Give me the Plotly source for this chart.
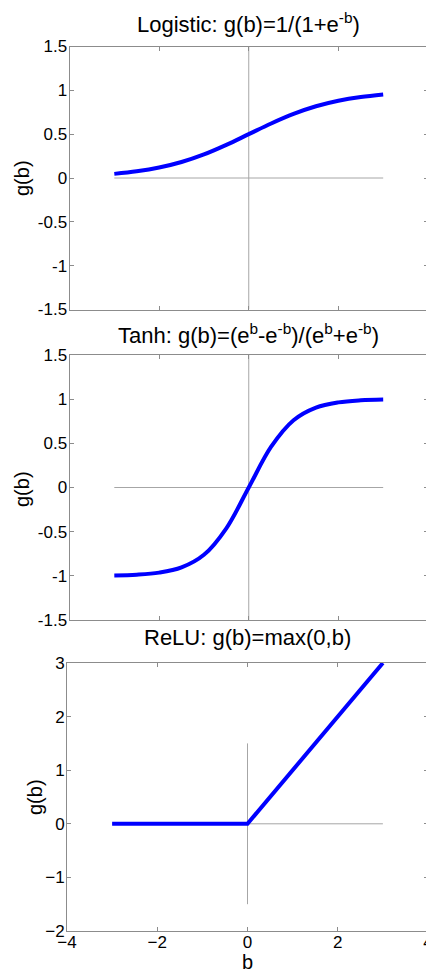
import plotly.graph_objects as go

# ---- data ----
b_vals = [-3.0, -2.5, -2.0, -1.5, -1.0, -0.5, 0.0, 0.5, 1.0, 1.5, 2.0, 2.5, 3.0]
logistic_vals = [0.047, 0.076, 0.119, 0.182, 0.269, 0.378, 0.5, 0.622, 0.731, 0.818, 0.881, 0.924, 0.953]
tanh_vals = [-0.995, -0.987, -0.964, -0.905, -0.762, -0.462, 0.0, 0.462, 0.762, 0.905, 0.964, 0.987, 0.995]
relu_b = [-3.0, 0.0, 3.0]
relu_vals = [0.0, 0.0, 3.0]

# reference (axis) lines drawn inside the panels
hline_x = [-3, 3]
hline_y = [0, 0]
vline_x_top = [0, 0]
vline_y_top = [-1.5, 1.5]
vline_x_relu = [0, 0]
vline_y_relu = [-1.5, 1.5]

titles = [
    "Logistic: g(b)=1/(1+e<sup>-b</sup>)",
    "Tanh: g(b)=(e<sup>b</sup>-e<sup>-b</sup>)/(e<sup>b</sup>+e<sup>-b</sup>)",
    "ReLU: g(b)=max(0,b)",
]
y_title = "g(b)"
x_title = "b"
x_ticks = [-4, -2, 0, 2, 4]
y_ticks_top = [-1.5, -1, -0.5, 0, 0.5, 1, 1.5]
y_ticks_top_text = ["-1.5", "-1", "-0.5", "0", "0.5", "1", "1.5"]
y_ticks_relu = [-2, -1, 0, 1, 2, 3]

# The page body has an 8px margin, so the figure is drawn at (8, 8) in the window.
OFF = 8
W, H = 434 - OFF, 972 - OFF
FONT = "Liberation Sans, Arial, sans-serif"
BLUE = "#0000ff"
REF = "#a6a6a6"
AX = "#8c8c8c"

fig = go.Figure()

panels = [
    ("x", "y", b_vals, logistic_vals, vline_x_top, vline_y_top, "spline"),
    ("x2", "y2", b_vals, tanh_vals, vline_x_top, vline_y_top, "spline"),
    ("x3", "y3", relu_b, relu_vals, vline_x_relu, vline_y_relu, "linear"),
]
for xa, ya, xs, ys, vx, vy, shape in panels:
    fig.add_trace(go.Scatter(x=hline_x, y=hline_y, mode="lines", xaxis=xa, yaxis=ya,
                             line=dict(color=REF, width=1), hoverinfo="skip", showlegend=False))
    fig.add_trace(go.Scatter(x=vx, y=vy, mode="lines", xaxis=xa, yaxis=ya,
                             line=dict(color=REF, width=1), hoverinfo="skip", showlegend=False))
    fig.add_trace(go.Scatter(x=xs, y=ys, mode="lines", xaxis=xa, yaxis=ya,
                             line=dict(color=BLUE, width=4, shape=shape, smoothing=1.0),
                             showlegend=False))

# window pixel geometry -> paper fractions
def py(p):
    return 1 - (p - OFF) / H

def pxf(p):
    return (p - OFF) / W

dom_y = [(py(309.5), py(46.5)), (py(620), py(355)), (py(931), py(663))]
dom_x = [(pxf(69.5), pxf(428)), (pxf(69.5), pxf(428)), (pxf(67), pxf(428))]

common_x = dict(range=[-4, 4], tickvals=x_ticks, ticks="inside", ticklen=4, tickcolor=AX,
                showline=True, linecolor=AX, linewidth=1, mirror="ticks",
                showgrid=False, zeroline=False, automargin=False,
                ticklabelstandoff=-4, ticklabeloverflow="allow",
                tickfont=dict(family=FONT, size=17, color="black"))
common_y = dict(ticks="inside", ticklen=4, tickcolor=AX,
                showline=True, linecolor=AX, linewidth=1, mirror="ticks",
                showgrid=False, zeroline=False, automargin=False,
                ticklabelstandoff=-2, ticklabeloverflow="allow",
                tickfont=dict(family=FONT, size=17, color="black"))

layout = dict(
    width=W, height=H,
    margin=dict(l=0, r=0, t=0, b=0, autoexpand=False),
    paper_bgcolor="white", plot_bgcolor="white",
    showlegend=False,
    font=dict(family=FONT, color="black"),
)
for i in range(3):
    sx = "" if i == 0 else str(i + 1)
    xa = dict(common_x, domain=list(dom_x[i]), anchor="y" + sx)
    ya = dict(common_y, domain=list(dom_y[i]), anchor="x" + sx)
    if i < 2:
        xa["showticklabels"] = False
        ya["range"] = [-1.5, 1.5]
        ya["tickvals"] = y_ticks_top
        ya["ticktext"] = y_ticks_top_text
    else:
        ya["range"] = [-2, 3]
        ya["tickvals"] = y_ticks_relu
    layout["xaxis" + sx] = xa
    layout["yaxis" + sx] = ya

title_centers = [(248.75, 23.3), (248.75, 334.0), (247.5, 637.3)]
annotations = [
    dict(text=t, x=pxf(cx), y=py(cy), xref="paper", yref="paper", xanchor="center", yanchor="middle",
         showarrow=False, font=dict(family=FONT, size=22, color="black"))
    for t, (cx, cy) in zip(titles, title_centers)
]
ytitle_centers = [(22, 178), (22, 489), (35, 797)]
annotations += [
    dict(text=y_title, x=pxf(cx), y=py(cy), xref="paper", yref="paper", xanchor="center",
         yanchor="middle", textangle=-90, showarrow=False,
         font=dict(family=FONT, size=20, color="black"))
    for cx, cy in ytitle_centers
]
annotations.append(
    dict(text=x_title, x=pxf(247.5), y=py(962), xref="paper", yref="paper", xanchor="center",
         yanchor="middle", showarrow=False, font=dict(family=FONT, size=20, color="black"))
)
layout["annotations"] = annotations

fig.update_layout(**layout)
fig.write_html("out.html")
